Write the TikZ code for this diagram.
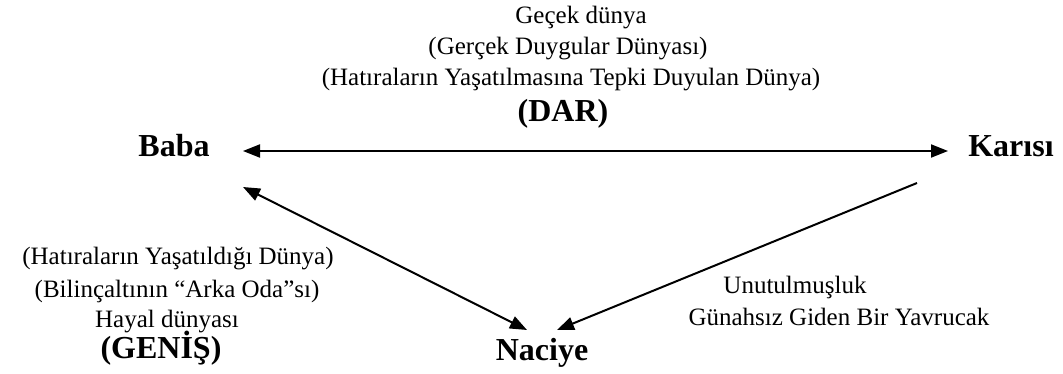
\documentclass[tikz,border=0pt]{standalone}
\usepackage{fontspec}
\setmainfont{Liberation Serif}
\usetikzlibrary{arrows.meta}

\tikzset{
  txt/.style={anchor=base, inner sep=0pt, font=\fontsize{25}{30}\selectfont},
  who/.style={anchor=base, inner sep=0pt, font=\fontsize{32}{38}\selectfont\bfseries},
  link/.style={line width=2pt, -{Triangle[length=17pt,width=13pt]}},
  twoway/.style={line width=2pt, {Triangle[length=17pt,width=13pt]}-{Triangle[length=17pt,width=13pt]}}
}

\begin{document}
\begin{tikzpicture}[x=1pt, y=-1pt]
  \useasboundingbox (0,0) rectangle (1063,374);

  % the three persons
  \node[who] (baba)   at (174,157) {Baba};
  \node[who] (karisi) at (1011,157) {Karısı};
  \node[who] (naciye) at (542,360) {Naciye};

  % upper world: the narrow one
  \node[txt] (t1) at (581,24)  {Geçek dünya};
  \node[txt] (t2) at (568,55)  {(Gerçek Duygular Dünyası)};
  \node[txt] (t3) at (571,86)  {(Hatıraların Yaşatılmasına Tepki Duyulan Dünya)};
  \node[who] (t4) at (563,122) {(DAR)};

  % lower left world: the wide one
  \node[txt] (l1) at (178,265) {(Hatıraların Yaşatıldığı Dünya)};
  \node[txt] (l2) at (177,297) {(Bilinçaltının “Arka Oda”sı)};
  \node[txt] (l3) at (167,327) {Hayal dünyası};
  \node[who] (l4) at (161,358) {(GENİŞ)};

  % lower right
  \node[txt] (r1) at (795,293) {Unutulmuşluk};
  \node[txt] (r2) at (839,325) {Günahsız Giden Bir Yavrucak};

  % connectors
  \draw[twoway] ([shift={(69,-6)}]baba.base) -- ([shift={(-63,-6)}]karisi.base);
  \draw[twoway] ([shift={(69,30)}]baba.base) -- ([shift={(-15,-30)}]naciye.base);
  \draw[link]   ([shift={(-94,26)}]karisi.base) -- ([shift={(15,-30)}]naciye.base);
\end{tikzpicture}
\end{document}
